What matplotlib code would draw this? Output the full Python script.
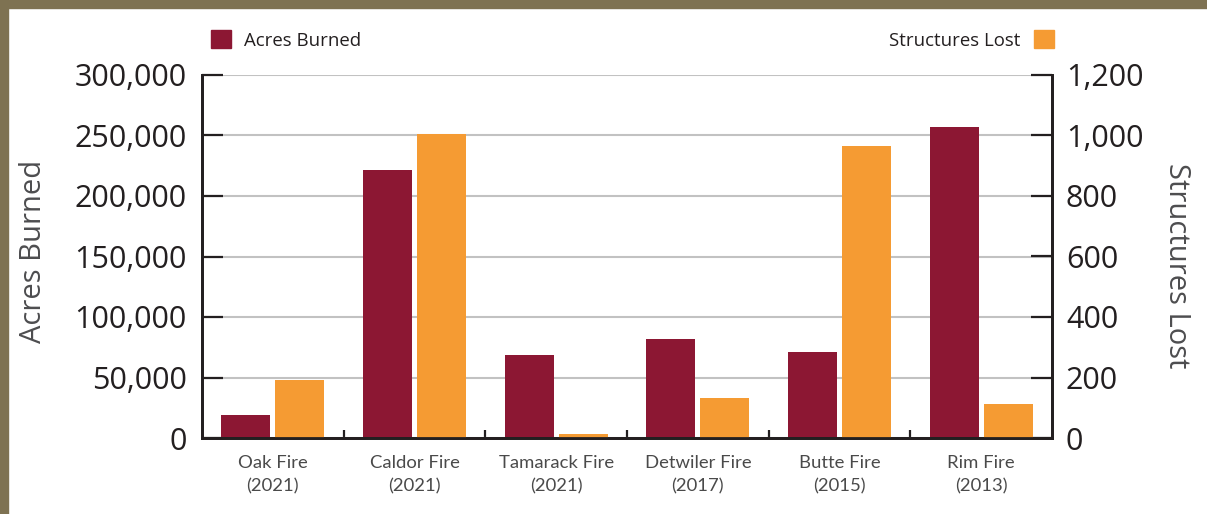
import numpy as np
import matplotlib.pyplot as plt
from matplotlib.patches import Patch, Rectangle

# data
fires = ["Oak Fire", "Caldor Fire", "Tamarack Fire", "Detwiler Fire", "Butte Fire", "Rim Fire"]
years = ["2021", "2021", "2021", "2017", "2015", "2013"]
acres = [19244, 221835, 68637, 81826, 70868, 257314]
structures = [193, 1005, 14, 131, 965, 112]

dark = '#8c1733'
orange = '#f59b33'
ink = '#231f20'

fig = plt.figure(figsize=(12.07, 5.14), dpi=100)
ax = fig.add_axes([202/1207, 1-438/514, 850/1207, 363/514])
ax2 = ax.twinx()

x = np.arange(len(fires))
w = 0.345
ax.bar(x - 0.19, acres, w, color=dark, zorder=2)
ax2.bar(x + 0.19, structures, w, color=orange, zorder=2)

ax.set_xlim(-0.5, len(fires) - 0.5)
ax.set_ylim(0, 300000)
ax2.set_ylim(0, 1200)
ax.set_yticks(np.arange(0, 300001, 50000))
ax2.set_yticks(np.arange(0, 1201, 200))
ax.set_yticklabels([f"{v:,}" for v in range(0, 300001, 50000)])
ax2.set_yticklabels([f"{v:,}" for v in range(0, 1201, 200)])

ax.set_axisbelow(True)
ax.grid(axis='y', color='#c2c2c2', linewidth=1.5, zorder=0)

for a in (ax, ax2):
    a.spines['top'].set_visible(False)
    for s in ('left', 'right', 'bottom'):
        a.spines[s].set_color(ink)
        a.spines[s].set_linewidth(2)

ax.tick_params(axis='y', direction='in', length=15, width=1.6, color=ink,
               labelsize=22, labelcolor=ink, pad=11)
ax2.tick_params(axis='y', direction='in', length=15, width=1.6, color=ink,
                labelsize=22, labelcolor=ink, pad=10)
for lab in ax.get_yticklabels() + ax2.get_yticklabels():
    lab.set_fontfamily('Open Sans')

ax.set_xticks(x)
ax.set_xticklabels([f"{f}\n({y})" for f, y in zip(fires, years)],
                   fontfamily='Lato', fontsize=13.3, color='#4a4a4a', linespacing=1.55)
ax.set_xticks(np.arange(0.5, len(fires) - 0.5), minor=True)
ax.tick_params(axis='x', which='major', length=0, pad=12.5)
ax.tick_params(axis='x', which='minor', direction='in', length=6, width=1.6, color=ink)

ax.set_ylabel("Acres Burned", fontfamily='Open Sans', fontsize=21, color='#4d4d4f')
ax.yaxis.set_label_coords(-0.181, 0.514)
ax2.set_ylabel("Structures Lost", fontfamily='Open Sans', fontsize=21, color='#4d4d4f',
               rotation=270)
ax2.yaxis.set_label_coords(1.164, 0.475)

# legends
leg1 = fig.legend(handles=[Patch(color=dark, label="Acres Burned")],
                  loc='center left', bbox_to_anchor=(211/1207, 1-40/514),
                  frameon=False, handlelength=1.1, handleheight=1.1,
                  handletextpad=0.7, borderpad=0, borderaxespad=0,
                  prop={'family': 'Open Sans', 'size': 13.4})
leg2 = fig.legend(handles=[Patch(color=orange, label="Structures Lost")],
                  loc='center right', bbox_to_anchor=(1054/1207, 1-40/514),
                  frameon=False, handlelength=1.1, handleheight=1.1,
                  handletextpad=0.7, borderpad=0, borderaxespad=0, markerfirst=False,
                  prop={'family': 'Open Sans', 'size': 13.4})
for leg in (leg1, leg2):
    for t in leg.get_texts():
        t.set_color(ink)

# olive frame at top and left
border = '#7e7252'
fig.patches.append(Rectangle((0, 1-8/514), 1, 8/514, transform=fig.transFigure,
                             color=border, zorder=10))
fig.patches.append(Rectangle((0, 0), 8/1207, 1, transform=fig.transFigure,
                             color=border, zorder=10))

fig.savefig('out.png', dpi=100)
